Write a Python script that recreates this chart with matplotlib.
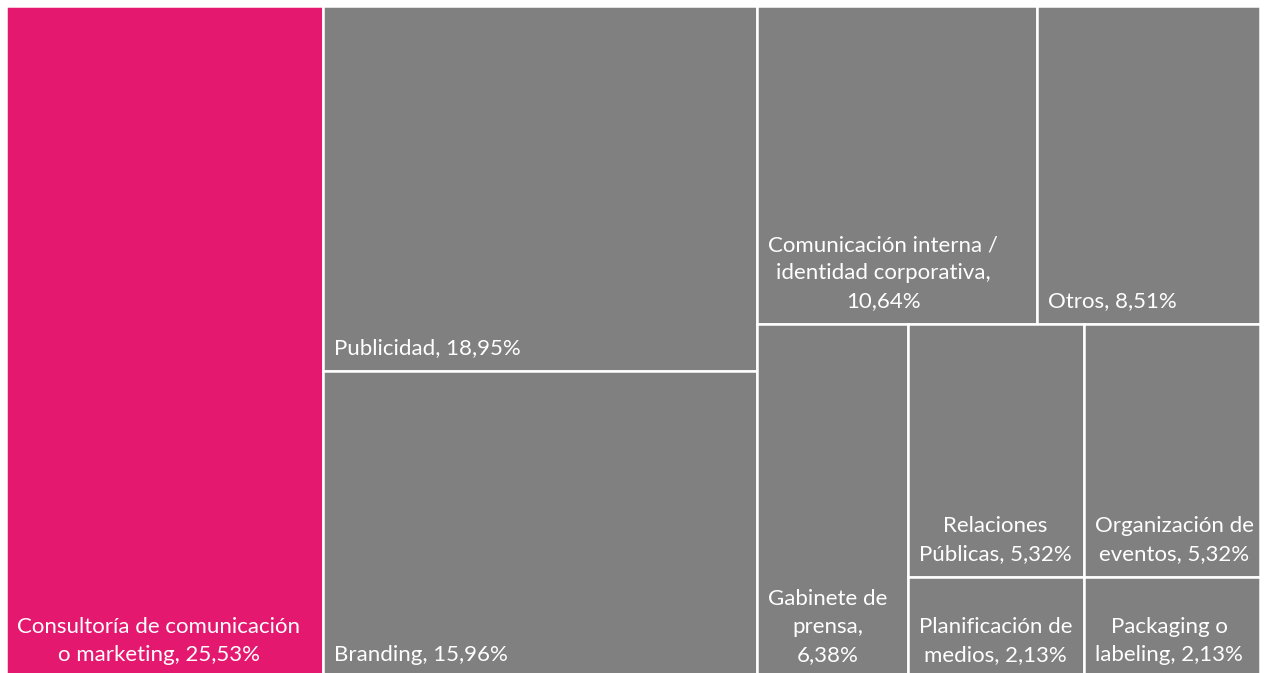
import matplotlib.pyplot as plt
from matplotlib.patches import Rectangle

labels = [
    "Consultoría de comunicación\no marketing, 25,53%",
    "Publicidad, 18,95%",
    "Branding, 15,96%",
    "Comunicación interna /\nidentidad corporativa,\n10,64%",
    "Otros, 8,51%",
    "Gabinete de\nprensa,\n6,38%",
    "Relaciones\nPúblicas, 5,32%",
    "Organización de\neventos, 5,32%",
    "Planificación de\nmedios, 2,13%",
    "Packaging o\nlabeling, 2,13%",
]
values = [25.53, 18.95, 15.96, 10.64, 8.51, 6.38, 5.32, 5.32, 2.13, 2.13]
colors = ["#E4186F"] + ["#808080"] * 9

# 'h' = side by side, 'v' = stacked top to bottom
layout = ("h", [0,
                ("v", [1, 2]),
                ("v", [("h", [3, 4]),
                       ("h", [5, ("v", [6, 8]), ("v", [7, 9])])])])

W, H = 1254, 672


def total(node):
    if isinstance(node, int):
        return values[node]
    return sum(total(c) for c in node[1])


def place(node, x, y, w, h, out):
    if isinstance(node, int):
        out[node] = (x, y, w, h)
        return
    kind, children = node
    s = total(node)
    for c in children:
        frac = total(c) / s
        if kind == "h":
            place(c, x, y, w * frac, h, out)
            x += w * frac
        else:
            place(c, x, y, w, h * frac, out)
            y += h * frac


rects = {}
place(layout, 0, 0, W, H, rects)

fig = plt.figure(figsize=(12.67, 6.73), dpi=100)
ax = fig.add_axes([6 / 1267, -5 / 673, W / 1267, H / 673])
ax.set_xlim(0, W)
ax.set_ylim(H, 0)
ax.axis("off")

for i, (x, y, w, h) in rects.items():
    ax.add_patch(Rectangle((x, y), w, h, facecolor=colors[i],
                           edgecolor="white", linewidth=1.8))
    ax.text(x + 11, y + h - 13, labels[i], color="white", fontsize=16,
            family="Lato", ha="left", va="bottom", multialignment="center",
            linespacing=1.5)

fig.savefig("out.png", dpi=100)
